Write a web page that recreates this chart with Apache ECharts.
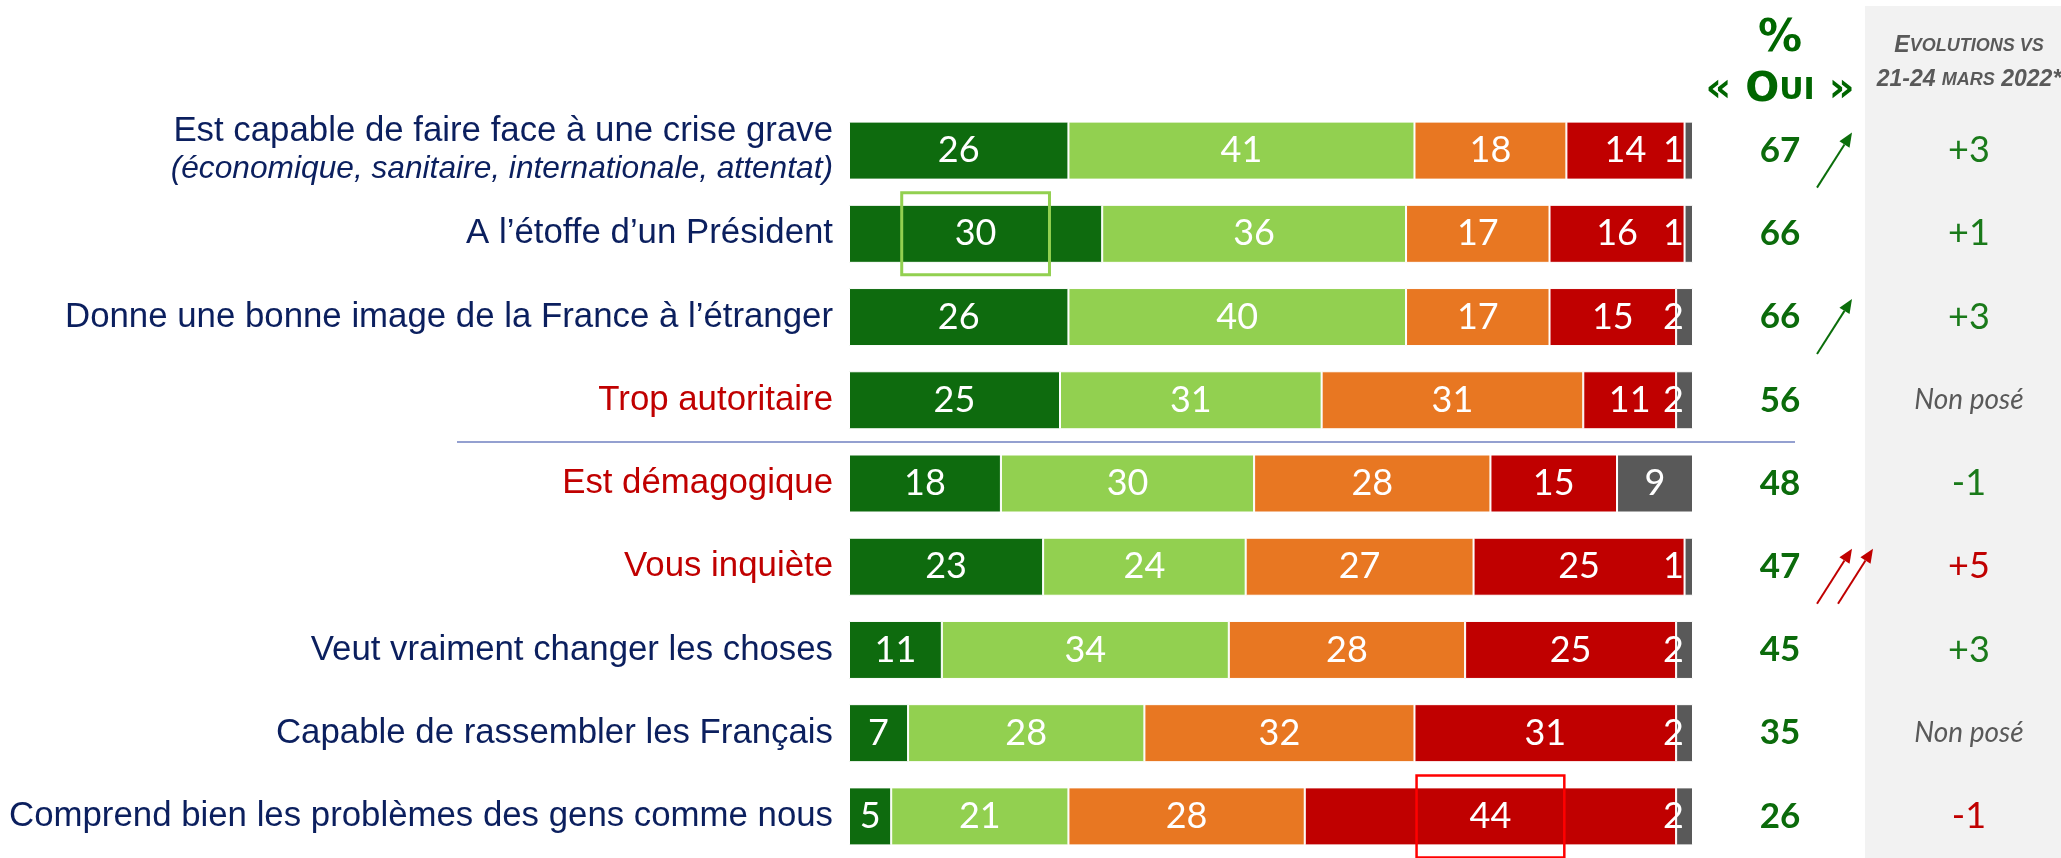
<!DOCTYPE html>
<html>
<head>
<meta charset="utf-8">
<script src="https://cdn.jsdelivr.net/npm/echarts@6/dist/echarts.min.js"></script>
<style>
  html, body { margin: 0; padding: 0; background: #fff; }
  #chart { width: 2061px; height: 858px; }
</style>
</head>
<body>
<div id="chart"></div>
<script>
// data
var categories = [
  'Est capable de faire face à une crise grave',
  'A l’étoffe d’un Président',
  'Donne une bonne image de la France à l’étranger',
  'Trop autoritaire',
  'Est démagogique',
  'Vous inquiète',
  'Veut vraiment changer les choses',
  'Capable de rassembler les Français',
  'Comprend bien les problèmes des gens comme nous'
];
var firstSubLabel = '(économique, sanitaire, internationale, attentat)';
var negativeItem = [false, false, false, true, true, true, false, false, false];

var seriesNames = ['Oui, tout à fait', 'Oui, plutôt', 'Non, plutôt pas', 'Non, pas du tout', 'Ne se prononce pas'];
var toutAFait = [26, 30, 26, 25, 18, 23, 11, 7, 5];
var plutot = [41, 36, 40, 31, 30, 24, 34, 28, 21];
var plutotPas = [18, 17, 17, 31, 28, 27, 28, 32, 28];
var pasDuTout = [14, 16, 15, 11, 15, 25, 25, 31, 44];
var nsp = [1, 1, 2, 2, 9, 1, 2, 2, 2];

var totalOui = [67, 66, 66, 56, 48, 47, 45, 35, 26];
var evolution = [3, 1, 3, null, -1, 5, 3, null, -1];   // null = Non posé
var arrowCount = [1, 0, 1, 0, 0, 2, 0, 0, 0];
var boxed = [[0, 1], [3, 8]];  // [series, row]

var colors = ['#0e6b0e', '#92d050', '#e87722', '#c00000', '#595959'];
var values = [toutAFait, plutot, plutotPas, pasDuTout, nsp];

function isGood(i) {
  return (evolution[i] > 0) !== negativeItem[i];
}
function isBoxed(s, i) {
  return boxed.some(function (b) { return b[0] === s && b[1] === i; });
}

var chart = echarts.init(document.getElementById('chart'));

var series = values.map(function (arr, s) {
  return {
    name: seriesNames[s],
    type: 'bar',
    stack: 'total',
    barWidth: 58,
    itemStyle: { color: colors[s], borderColor: '#fff', borderWidth: 1 },
    label: {
      show: true,
      position: 'inside',
      color: '#fff',
      fontFamily: 'Lato',
      fontSize: 36
    },
    data: arr.map(function (v, i) {
      var item = { value: v };
      if (s === 4 && v < 5) {
        item.label = { position: 'insideRight', distance: 9 };
      }
      if (isBoxed(s, i)) {
        item.label = {
          lineHeight: 40,
          padding: [22, 53, 20, 53],
          borderColor: s === 0 ? '#92d050' : '#ff0000',
          borderWidth: s === 0 ? 3 : 2.5
        };
      }
      return item;
    })
  };
});

var option = {
  animation: false,
  backgroundColor: '#fff',
  grid: { left: 849, right: 368, top: 109, height: 753 },
  xAxis: { type: 'value', min: 0, max: 100, show: false },
  yAxis: [
    {
      type: 'category',
      data: categories,
      inverse: true,
      axisLine: { show: false },
      axisTick: { show: false },
      axisLabel: {
        interval: 0,
        margin: 16,
        formatter: function (v, i) {
          if (i === 0) return '{pos|' + v + '}\n{it|' + firstSubLabel + '}';
          return (negativeItem[i] ? '{neg|' : '{pos|') + v + '}';
        },
        rich: {
          pos: { fontFamily: 'Liberation Sans', fontSize: 34.8, color: '#0b1f5e', lineHeight: 38, align: 'right' },
          neg: { fontFamily: 'Liberation Sans', fontSize: 34.8, color: '#c00000', lineHeight: 38, align: 'right' },
          it: { fontFamily: 'Liberation Sans', fontSize: 31.7, fontStyle: 'italic', color: '#0b1f5e', lineHeight: 38, align: 'right' }
        }
      }
    },
    {
      type: 'category',
      data: categories,
      inverse: true,
      position: 'right',
      axisLine: { show: false },
      axisTick: { show: false },
      axisLabel: {
        interval: 0,
        margin: 87,
        align: 'center',
        fontFamily: 'Lato',
        fontWeight: 'bold',
        fontSize: 35,
        color: '#0b6b0b',
        formatter: function (v, i) { return String(totalOui[i]); }
      }
    },
    {
      type: 'category',
      data: categories,
      inverse: true,
      position: 'right',
      axisLine: { show: false },
      axisTick: { show: false },
      axisLabel: {
        interval: 0,
        margin: 276,
        align: 'center',
        formatter: function (v, i) {
          var e = evolution[i];
          if (e === null) return '{np|Non posé}';
          var txt = (e > 0 ? '+' : '') + e;
          return (isGood(i) ? '{good|' : '{bad|') + txt + '}';
        },
        rich: {
          good: { fontFamily: 'Lato', fontSize: 36, color: '#1a7a1a' },
          bad: { fontFamily: 'Lato', fontSize: 36, color: '#c00000' },
          np: { fontFamily: 'Lato', fontSize: 28, fontStyle: 'italic', color: '#595959' }
        }
      }
    }
  ],
  series: series
};

chart.setOption(option);

// decorations placed from the axis scale
var graphics = [];
graphics.push({
  type: 'rect', z: -10, silent: true,
  shape: { x: 1865, y: 6, width: 196, height: 852 },
  style: { fill: '#f2f2f2' }
});
graphics.push({
  type: 'text', x: 1780, y: 40,
  style: { text: '%', fontFamily: 'DejaVu Sans', fontWeight: 'bold', fontSize: 44, fill: '#006600', align: 'center', verticalAlign: 'middle' }
});
graphics.push({
  type: 'text', x: 1780, y: 91,
  style: {
    text: '{a|« }{b|O}{c|UI}{a| »}',
    align: 'center', verticalAlign: 'middle',
    rich: {
      a: { fontFamily: 'DejaVu Sans', fontWeight: 'bold', fontSize: 40, fill: '#006600' },
      b: { fontFamily: 'DejaVu Sans', fontWeight: 'bold', fontSize: 40, fill: '#006600' },
      c: { fontFamily: 'DejaVu Sans', fontWeight: 'bold', fontSize: 30, fill: '#006600' }
    }
  }
});
graphics.push({
  type: 'text', x: 1969, y: 63,
  style: {
    text: '{big|E}{sm|VOLUTIONS VS}\n{big|21-24 }{sm|MARS}{big| 2022*}',
    align: 'center', verticalAlign: 'middle',
    rich: {
      big: { fontFamily: 'Liberation Sans', fontWeight: 'bold', fontStyle: 'italic', fontSize: 23, fill: '#595959', lineHeight: 34 },
      sm: { fontFamily: 'Liberation Sans', fontWeight: 'bold', fontStyle: 'italic', fontSize: 18, fill: '#595959', lineHeight: 34 }
    }
  }
});

var yRow = categories.map(function (c) {
  return chart.convertToPixel({ yAxisIndex: 0 }, c);
});
var sepY = (yRow[3] + yRow[4]) / 2;
graphics.push({
  type: 'line', silent: true,
  shape: { x1: 457, y1: sepY, x2: 1795, y2: sepY },
  style: { stroke: '#7080c0', lineWidth: 1.5 }
});

arrowCount.forEach(function (n, i) {
  var col = isGood(i) ? '#0b6e0b' : '#c00000';
  for (var k = 0; k < n; k++) {
    var x0 = 1817 + 21 * k, y0 = yRow[i] + 37;
    var x1 = x0 + 35, y1 = yRow[i] - 18;
    var dx = x1 - x0, dy = y1 - y0, len = Math.sqrt(dx * dx + dy * dy);
    var ux = dx / len, uy = dy / len;
    var bx = x1 - ux * 14, by = y1 - uy * 14;
    var px = -uy, py = ux;
    graphics.push({
      type: 'line', silent: true,
      shape: { x1: x0, y1: y0, x2: bx, y2: by },
      style: { stroke: col, lineWidth: 2 }
    });
    graphics.push({
      type: 'polygon', silent: true,
      shape: { points: [[x1, y1], [bx + px * 6, by + py * 6], [bx - px * 6, by - py * 6]] },
      style: { fill: col }
    });
  }
});

chart.setOption({ graphic: graphics });
</script>
</body>
</html>
